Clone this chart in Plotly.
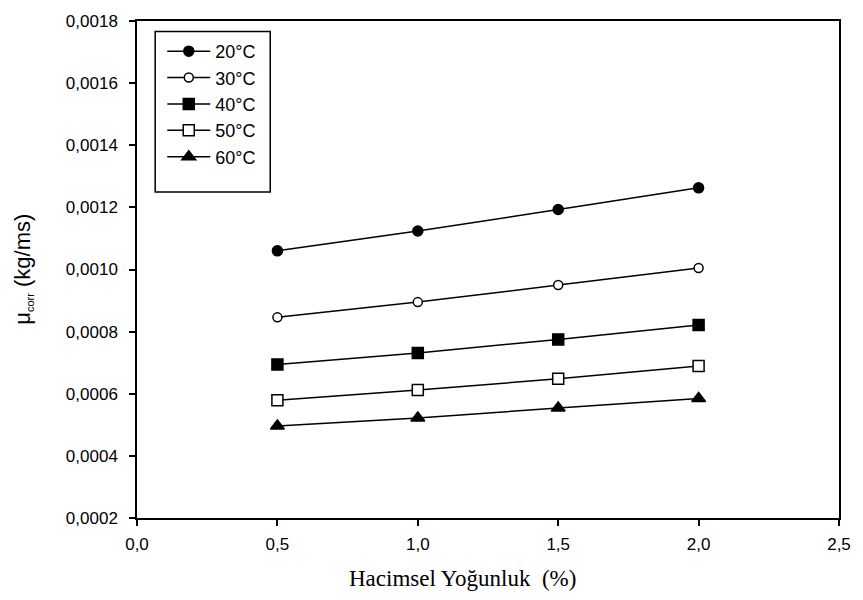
import plotly.graph_objects as go

# Volume concentration (%) and corrected viscosity (kg/ms) per temperature
concentration = [0.5, 1.0, 1.5, 2.0]
temperatures = ["20°C", "30°C", "40°C", "50°C", "60°C"]
mu_20 = [0.001060, 0.001124, 0.001193, 0.001263]
mu_30 = [0.000846, 0.000895, 0.000950, 0.001005]
mu_40 = [0.000694, 0.000731, 0.000775, 0.000821]
mu_50 = [0.000579, 0.000612, 0.000648, 0.000689]
mu_60 = [0.000496, 0.000522, 0.000554, 0.000585]

x_ticks = [0.0, 0.5, 1.0, 1.5, 2.0, 2.5]
y_ticks = [0.0002, 0.0004, 0.0006, 0.0008, 0.0010, 0.0012, 0.0014, 0.0016, 0.0018]

series = [mu_20, mu_30, mu_40, mu_50, mu_60]
symbols = ["circle", "circle", "square", "square", "triangle-up"]
fills = ["black", "white", "black", "white", "black"]
sizes = [10, 9, 11, 11, 12]

fig = go.Figure()
for i, (name, vals) in enumerate(zip(temperatures, series)):
    fig.add_trace(go.Scatter(
        x=concentration, y=vals, name=name, mode="lines+markers",
        legendgroup=name,
        line=dict(color="black", width=1.5),
        marker=dict(symbol=symbols[i], size=sizes[i], color=fills[i],
                    line=dict(color="black", width=1.5)),
    ))

sans = "Liberation Sans, Arial, sans-serif"
axis_font = dict(family=sans, size=17, color="black")

fig.update_layout(
    width=863, height=600,
    margin=dict(l=137, r=19, t=13, b=82),
    paper_bgcolor="white", plot_bgcolor="white",
    separators=",.",
    showlegend=True,
    legend=dict(
        x=0.036, y=0.976, xanchor="left", yanchor="top",
        bgcolor="rgba(0,0,0,0)", borderwidth=0,
        font=dict(family=sans, size=18, color="black"),
        tracegroupgap=0,
        itemwidth=43,
    ),
    # frame around the legend
    shapes=[dict(type="rect", xref="paper", yref="paper",
                 x0=0.0259, x1=0.1898, y0=0.656, y1=0.979,
                 line=dict(color="black", width=1.5), fillcolor="rgba(0,0,0,0)",
                 layer="above")],
    xaxis=dict(
        range=[0, 2.5], tickvals=x_ticks, tickformat=".1f",
        showgrid=False, zeroline=False,
        showline=True, linecolor="black", linewidth=1.5, mirror=True,
        ticks="outside", ticklen=6, tickwidth=1.5, tickcolor="black",
        tickfont=axis_font, ticklabelstandoff=4,
    ),
    yaxis=dict(
        range=[0.0002, 0.0018], tickvals=y_ticks, tickformat=".4f",
        showgrid=False, zeroline=False,
        showline=True, linecolor="black", linewidth=1.5, mirror=True,
        ticks="outside", ticklen=6, tickwidth=1.5, tickcolor="black",
        tickfont=axis_font, ticklabelstandoff=8,
    ),
    annotations=[
        dict(text="Hacimsel Yoğunluk  (%)", xref="paper", yref="paper",
             x=0.464, y=-0.122, xanchor="center", yanchor="middle",
             showarrow=False,
             font=dict(family="Liberation Serif, Times New Roman, serif", size=23, color="black")),
        dict(text="μ<sub><span style='font-size:11px'>corr</span></sub> (kg/ms)",
             xref="paper", yref="paper",
             x=-0.162, y=0.5, xanchor="center", yanchor="middle",
             textangle=-90, showarrow=False,
             font=dict(family=sans, size=22, color="black")),
    ],
)

fig.write_html("out.html")
